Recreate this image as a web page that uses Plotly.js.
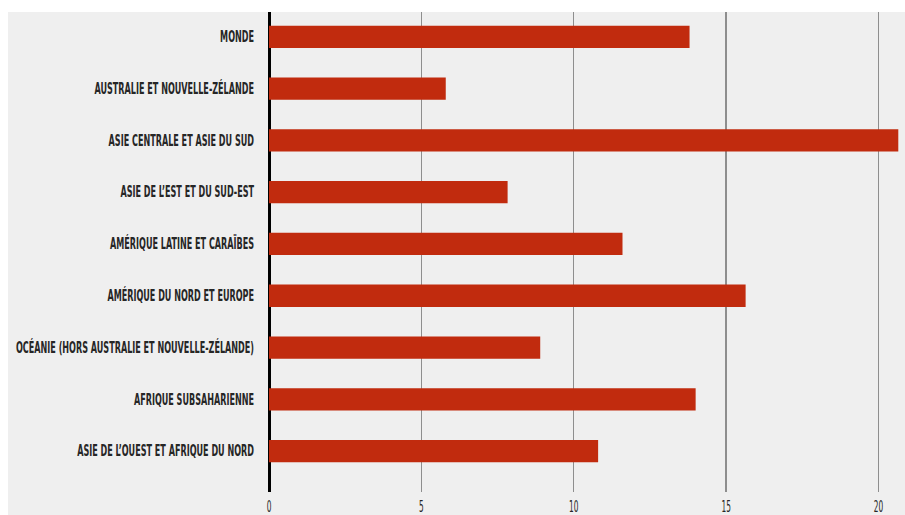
<!DOCTYPE html>
<html>
<head>
<meta charset="utf-8">
<script src="https://cdn.plot.ly/plotly-3.0.1.min.js"></script>
<style>
html,body{margin:0;padding:0;background:#fff;}
#chart{width:905px;height:515px;}
#chart svg text{font-stretch:condensed;}
</style>
</head>
<body>
<div id="chart"></div>
<script>
const regions = [
  "MONDE",
  "AUSTRALIE ET NOUVELLE-ZÉLANDE",
  "ASIE CENTRALE ET ASIE DU SUD",
  "ASIE DE L’EST ET DU SUD-EST",
  "AMÉRIQUE LATINE ET CARAÏBES",
  "AMÉRIQUE DU NORD ET EUROPE",
  "OCÉANIE (HORS AUSTRALIE ET NOUVELLE-ZÉLANDE)",
  "AFRIQUE SUBSAHARIENNE",
  "ASIE DE L’OUEST ET AFRIQUE DU NORD"
];
const values = [13.8, 5.8, 20.65, 7.83, 11.6, 15.64, 8.9, 14.0, 10.8];
const xTicks = [0, 5, 10, 15, 20];

const fontFam = '"DejaVu Sans", sans-serif';

const trace = {
  type: 'bar',
  orientation: 'h',
  y: regions,
  x: values,
  width: 0.43,
  marker: {color: '#c12b0e', line: {width: 0}},
  hoverinfo: 'x+y'
};

const layout = {
  width: 905,
  height: 515,
  margin: {l: 269, r: 0, t: 12, b: 23, pad: 0},
  paper_bgcolor: '#efefef',
  plot_bgcolor: '#efefef',
  showlegend: false,
  font: {family: fontFam, color: '#262626', size: 12},
  xaxis: {
    range: [0, 20.87],
    tickvals: xTicks,
    ticktext: xTicks.map(String),
    showgrid: true,
    gridcolor: '#8e8e8e',
    gridwidth: 1.5,
    zeroline: true,
    zerolinecolor: '#000000',
    zerolinewidth: 3,
    showline: false,
    ticks: '',
    ticklabelstandoff: 4,
    tickfont: {family: fontFam, size: 15, color: '#262626'},
    fixedrange: true
  },
  yaxis: {
    type: 'category',
    categoryorder: 'array',
    categoryarray: regions,
    range: [8.79, -0.48],
    showgrid: false,
    zeroline: false,
    showline: false,
    ticks: '',
    ticklabelstandoff: 14,
    tickfont: {family: fontFam, size: 15, color: '#262626', weight: 600},
    fixedrange: true
  },
  shapes: [
    {type: 'rect', xref: 'paper', yref: 'paper', x0: -0.5, x1: 1.01, y0: 1, y1: 1.05,
     fillcolor: '#ffffff', line: {width: 0}, layer: 'above'},
    {type: 'rect', xref: 'paper', yref: 'paper', x0: -0.5, x1: -0.4104, y0: -0.06, y1: 1.05,
     fillcolor: '#ffffff', line: {width: 0}, layer: 'above'}
  ]
};

// condense the label glyphs horizontally to mimic the narrow typeface of the original
function condense(selector, targetFn) {
  document.querySelectorAll(selector).forEach(function (t) {
    const w = t.getComputedTextLength();
    const target = targetFn(w, t.textContent);
    if (target < w) {
      t.setAttribute('textLength', target.toFixed(1));
      t.setAttribute('lengthAdjust', 'spacingAndGlyphs');
    }
  });
}

Plotly.newPlot('chart', [trace], layout, {displayModeBar: false, staticPlot: true}).then(function () {
  // reference: longest label spans 238px
  let longest = 0;
  document.querySelectorAll('#chart .ytick text').forEach(function (t) {
    longest = Math.max(longest, t.getComputedTextLength());
  });
  const f = longest > 238 ? 238 / longest : 1;
  condense('#chart .ytick text', function (w) { return w * f; });
  condense('#chart .xtick text', function (w) { return w * 0.55; });
});
</script>
</body>
</html>
